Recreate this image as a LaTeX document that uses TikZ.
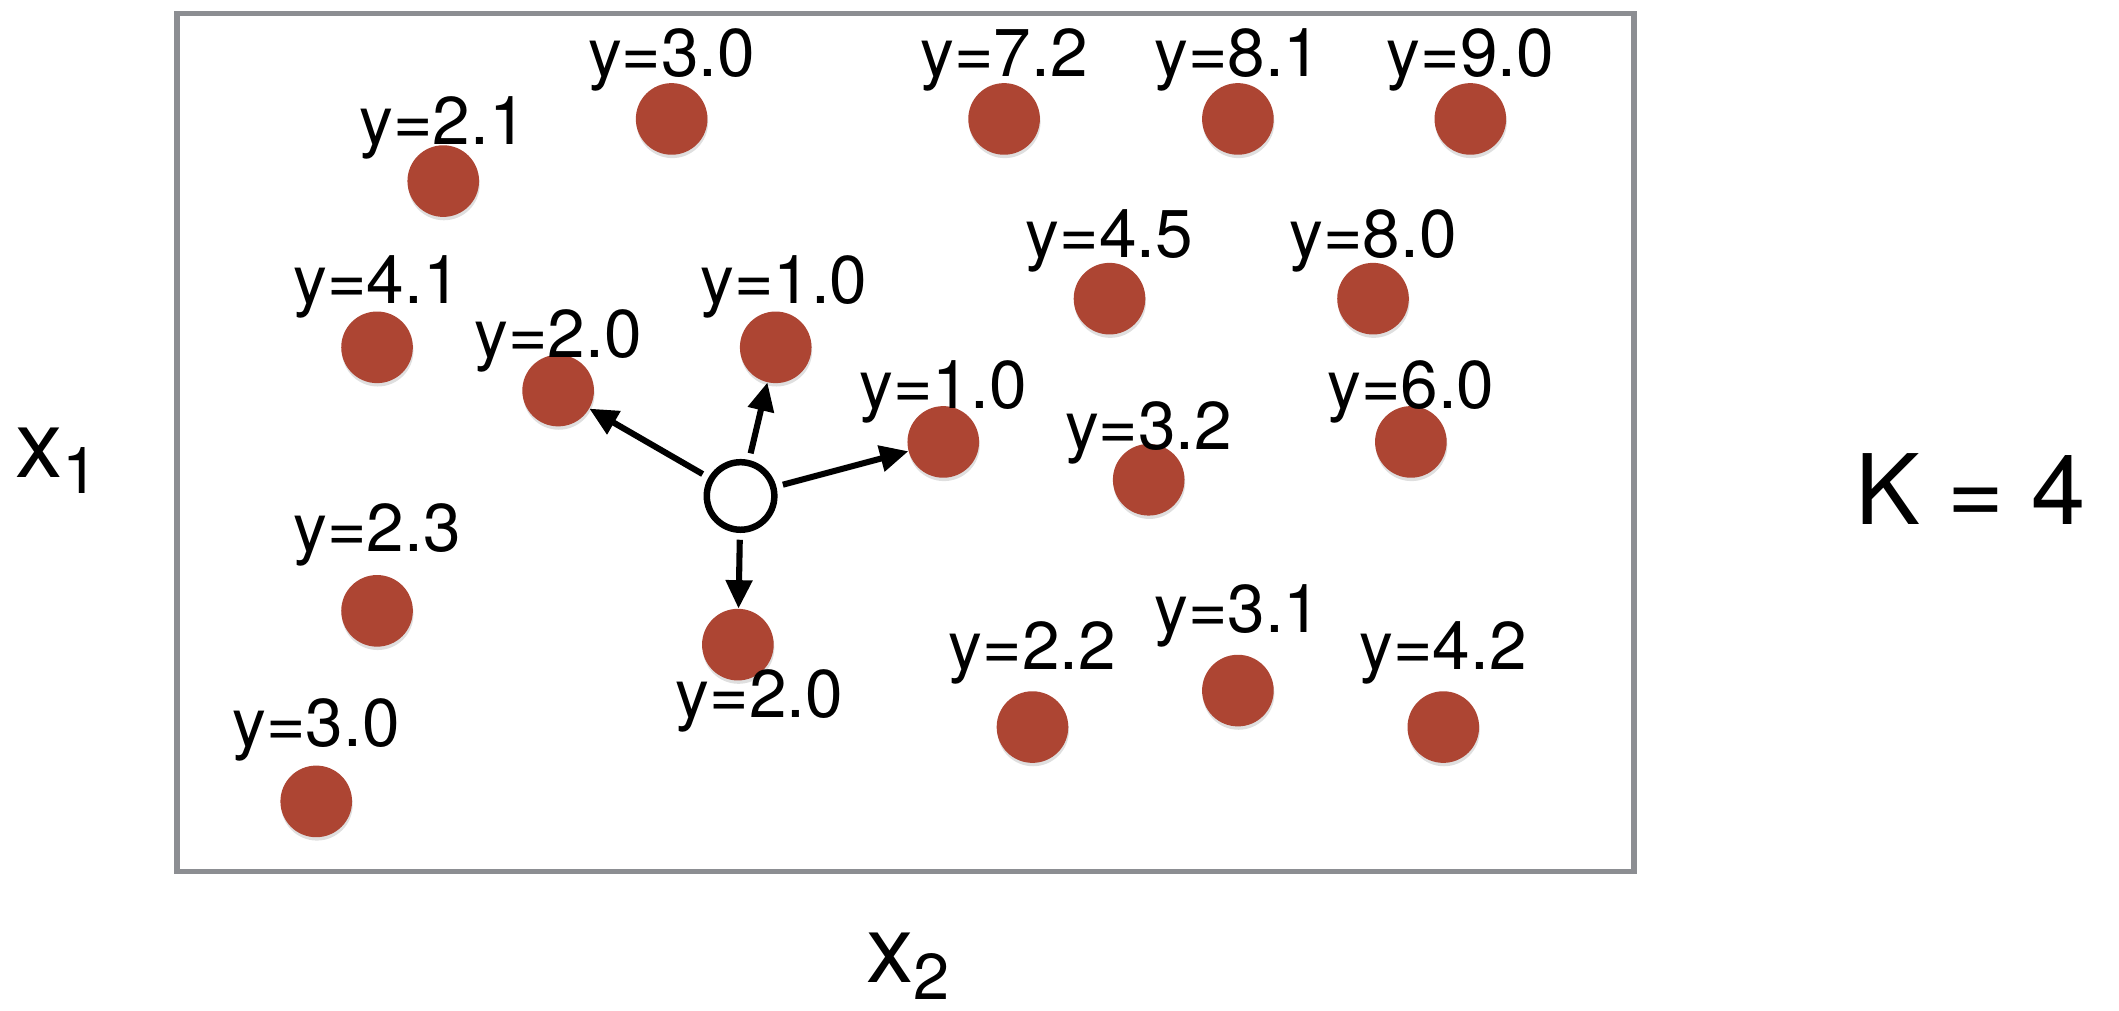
\documentclass[tikz,border=0pt]{standalone}
\usepackage{fontspec}
\setmainfont{TeX Gyre Heros}
\usetikzlibrary{arrows.meta,shadows}
\definecolor{dotred}{HTML}{AD4533}
\definecolor{framegray}{HTML}{8C8E92}
\tikzset{
  pt/.style={circle,fill=dotred,minimum size=53pt,inner sep=0pt,
    drop shadow={opacity=0.25,shadow xshift=0.5pt,shadow yshift=-2.5pt}},
  lab/.style={inner sep=0pt,font=\fontsize{50}{60}\selectfont},
  query/.style={circle,draw=black,line width=4.8pt,fill=white,minimum size=50pt,inner sep=0pt},
  nbarrow/.style={line width=4.5pt,-{Triangle[length=21pt,width=19pt]},shorten <=5pt,shorten >=0pt},
}
\begin{document}
\begin{tikzpicture}[x=1pt,y=-1pt]
\useasboundingbox (0,0) rectangle (1568,748);
\draw[framegray,line width=4pt] (131,10) rectangle (1209,645);
% points
\node[pt] (p1) at (328,134) {}; \node[lab] (l1) at (328,95) {y=2.1};
\node[pt] (p2) at (497,88) {}; \node[lab] (l2) at (497,44) {y=3.0};
\node[pt] (p3) at (743,88) {}; \node[lab] (l3) at (743,44) {y=7.2};
\node[pt] (p4) at (916,88) {}; \node[lab] (l4) at (916,44) {y=8.1};
\node[pt] (p5) at (1088,88) {}; \node[lab] (l5) at (1088,44) {y=9.0};
\node[pt] (p6) at (279,257) {}; \node[lab] (l6) at (279,212) {y=4.1};
\node[pt] (p7) at (413,289) {}; \node[lab] (l7) at (413,252) {y=2.0};
\node[pt] (p8) at (574,257) {}; \node[lab] (l8) at (580,212) {y=1.0};
\node[pt] (p9) at (821,221) {}; \node[lab] (l9) at (821,178) {y=4.5};
\node[pt] (p10) at (1016,221) {}; \node[lab] (l10) at (1016,178) {y=8.0};
\node[pt] (p11) at (698,327) {}; \node[lab] (l11) at (698,290) {y=1.0};
\node[pt] (p12) at (850,355) {}; \node[lab] (l12) at (850,320) {y=3.2};
\node[pt] (p13) at (1044,327) {}; \node[lab] (l13) at (1044,290) {y=6.0};
\node[pt] (p15) at (279,452) {}; \node[lab] (l15) at (279,396) {y=2.3};
\node[pt] (p16) at (546,477) {}; \node[lab] (l16) at (562,519) {y=2.0};
\node[pt] (p17) at (764,538) {}; \node[lab] (l17) at (764,483) {y=2.2};
\node[pt] (p18) at (916,511) {}; \node[lab] (l18) at (916,456) {y=3.1};
\node[pt] (p19) at (1068,538) {}; \node[lab] (l19) at (1068,483) {y=4.2};
\node[pt] (p20) at (234,593) {}; \node[lab] (l20) at (234,540) {y=3.0};
% query
\node[query] (q) at (548,367) {};
\draw[nbarrow] (q) -- (p7);
\draw[nbarrow] (q) -- (p8);
\draw[nbarrow] (q) -- (p11);
\draw[nbarrow] (q) -- (p16);
% axis labels
\node[inner sep=0pt] (x1) at (42,341) {\fontsize{70}{80}\selectfont x\raisebox{-12pt}{\fontsize{48}{56}\selectfont 1}};
\node[inner sep=0pt] (x2) at (672,715) {\fontsize{70}{80}\selectfont x\raisebox{-12pt}{\fontsize{48}{56}\selectfont 2}};
\node[inner sep=0pt] (k) at (1458,362) {\fontsize{72}{80}\selectfont K = 4};
\end{tikzpicture}
\end{document}
